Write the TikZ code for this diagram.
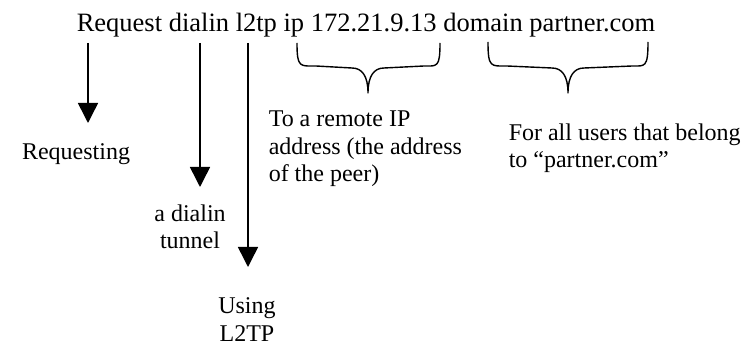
\documentclass[tikz,border=0pt]{standalone}
\usepackage{fontspec}
\setmainfont{Liberation Serif}
\usetikzlibrary{arrows.meta}

\begin{document}
\begin{tikzpicture}[x=1pt, y=-1pt, line width=1.5pt,
        cmdtext/.style={inner sep=0pt, font=\fontsize{26.5}{30}\selectfont},
        note/.style={inner sep=0pt, font=\fontsize{24}{27.5}\selectfont},
        down/.style={-{Triangle[width=20pt, length=20pt]}},
        curly/.style={line width=1.4pt, line join=round}]
        \useasboundingbox (0,0) rectangle (741,347);
        \node[cmdtext, anchor=base west] (cmd) at (76,32) {Request dialin l2tp ip 172.21.9.13 domain partner.com};

        % the three arrows
        \coordinate (reqtop) at (88,43);
        \coordinate (reqend) at (88,123);
        \coordinate (dialtop) at (200,43);
        \coordinate (dialend) at (200,187);
        \coordinate (l2tptop) at (248,43);
        \coordinate (l2tpend) at (248,267);
        \draw[down] (reqtop) -- (reqend);
        \draw[down] (dialtop) -- (dialend);
        \draw[down] (l2tptop) -- (l2tpend);

        % multi-line notes: base is the last line
        \node[note, anchor=base] (req) at (76,160) {Requesting};
        \node[note, anchor=base, align=center] (dial) at (190,249) {a dialin\\tunnel};
        \node[note, anchor=base, align=center] (l2tp) at (247,341) {Using\\L2TP};

        % the two braces
        \draw[curly] (297,43) .. controls (297,68) and (300,66) .. (316,66) -- (352,68)
                .. controls (362,68) and (368,76) .. (368,93)
                .. controls (368,76) and (374,68) .. (384,68) -- (424,66)
                .. controls (437,66) and (440,68) .. (440,43);
        \draw[curly] (488,42) .. controls (488,68) and (491,66) .. (507,66) -- (552,68)
                .. controls (562,68) and (568,76) .. (568,93)
                .. controls (568,76) and (574,68) .. (584,68) -- (632,66)
                .. controls (645,66) and (648,68) .. (648,42);

        \node[note, anchor=base west, align=left] (peer) at (268,182) {To a remote IP\\address (the address\\of the peer)};
        \node[note, anchor=base west, align=left] (users) at (508,168) {For all users that belong\\to “partner.com”};
\end{tikzpicture}
\end{document}
